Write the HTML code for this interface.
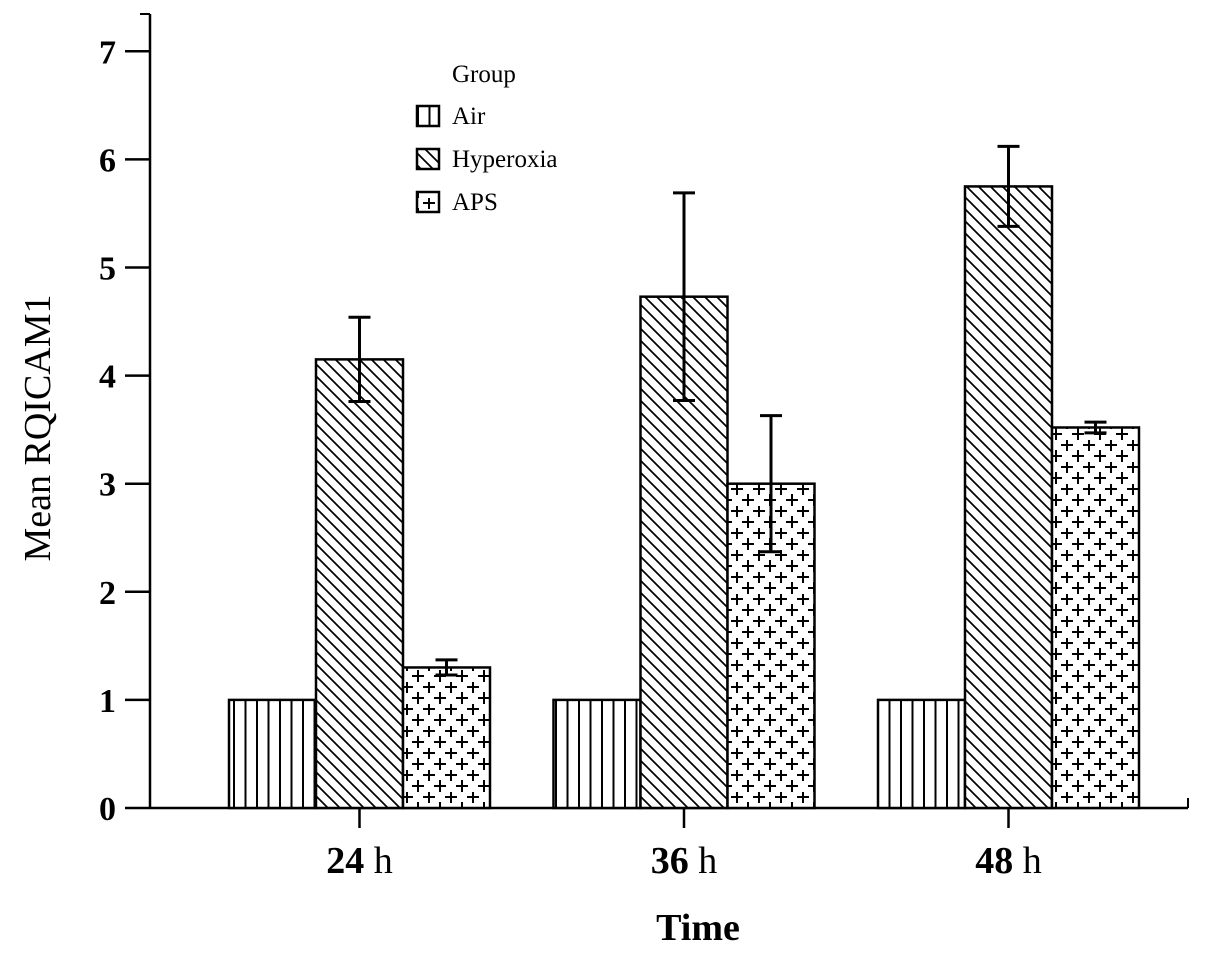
<!DOCTYPE html>
<html><head><meta charset="utf-8"><style>
html,body{margin:0;padding:0;background:#fff;}
svg{display:block;font-family:"Liberation Serif",serif;}
</style></head><body>
<svg id="chart" width="1205" height="953">
<defs>
<pattern id="pAir" patternUnits="userSpaceOnUse" width="11.5" height="20" x="229">
<rect width="11.5" height="20" fill="#fff"/><line x1="5" y1="0" x2="5" y2="20" stroke="#000" stroke-width="2"/></pattern>
<pattern id="pHyp" patternUnits="userSpaceOnUse" width="12" height="12">
<rect width="12" height="12" fill="#fff"/><path d="M-6,6 L6,18 M0,0 L12,12 M6,-6 L18,6" stroke="#000" stroke-width="1.7"/></pattern>
<pattern id="pAps" patternUnits="userSpaceOnUse" width="22" height="22">
<rect width="22" height="22" fill="#fff"/><path d="M5,5 h12 M11,-1 v12 M-6,16 h12 M16,16 h12 M0,10 v12 M22,10 v12" stroke="#000" stroke-width="2"/></pattern>
</defs>
<g id="axes"></g>
<g id="bars"></g>
<g id="legend">
<text x="452" y="82" font-size="25">Group</text>
<rect x="417" y="106" width="22" height="20" fill="url(#pAir)" stroke="#000" stroke-width="2.5"/>
<text x="452" y="124" font-size="25">Air</text>
<rect x="417" y="149" width="22" height="20" fill="url(#pHyp)" stroke="#000" stroke-width="2.5"/>
<text x="452" y="167" font-size="25">Hyperoxia</text>
<rect x="417" y="192" width="22" height="20" fill="url(#pAps)" stroke="#000" stroke-width="2.5"/>
<text x="452" y="210" font-size="25">APS</text>
</g>
<text x="698" y="940" font-size="38" font-weight="bold" text-anchor="middle">Time</text>
<text transform="translate(50,428) rotate(-90)" font-size="38" text-anchor="middle">Mean RQICAM1</text>
</svg>
<script>
const categories = ["24 h","36 h","48 h"];
const seriesNames = ["Air","Hyperoxia","APS"];
const airValues = [1,1,1];
const hypValues = [4.15,4.73,5.75];
const apsValues = [1.3,3.0,3.52];
const airErr = [0,0,0];
const hypErr = [0.39,0.96,0.37];
const apsErr = [0.07,0.63,0.05];
const yTicks = [0,1,2,3,4,5,6,7];

const NS="http://www.w3.org/2000/svg";
const y0=808, unit=108.1;
function yS(v){return y0-v*unit;}
const groupStart=229, groupStep=324.5, barW=87;
function xS(ci,si){return groupStart+ci*groupStep+si*barW;}
function mk(tag,attrs,parent){const e=document.createElementNS(NS,tag);for(const k in attrs)e.setAttribute(k,attrs[k]);parent.appendChild(e);return e;}
const axes=document.getElementById('axes'), bars=document.getElementById('bars');
let e;
e=mk('line',{x1:150,y1:14,x2:150,y2:808,stroke:'#000','stroke-width':2.5},axes);


e=mk('line',{x1:150,y1:808,x2:1188,y2:808,stroke:'#000','stroke-width':2.5},axes);


mk('line',{x1:1188,y1:798,x2:1188,y2:808,stroke:'#000','stroke-width':2},axes);
mk('line',{x1:140,y1:14,x2:150,y2:14,stroke:'#000','stroke-width':2},axes);
yTicks.forEach(t=>{
  mk('line',{x1:125,y1:yS(t),x2:150,y2:yS(t),stroke:'#000','stroke-width':2.5},axes);
  const tx=mk('text',{x:116,y:yS(t)+12,'font-size':34,'font-weight':'bold','text-anchor':'end'},axes);
  tx.textContent=t;
  
  
});
categories.forEach((c,i)=>{
  const cx=xS(i,0)+barW*1.5;
  mk('line',{x1:cx,y1:808,x2:cx,y2:828,stroke:'#000','stroke-width':2.5},axes);
  const tx=mk('text',{x:cx,y:873,'font-size':38,'text-anchor':'middle'},axes);
  const parts=c.split(' ');
  const t1=mk('tspan',{'font-weight':'bold'},tx); t1.textContent=parts[0]+' ';
  const t2=mk('tspan',{},tx); t2.textContent=parts[1];
  
  
});
const series=[[airValues,airErr,'url(#pAir)','air'],[hypValues,hypErr,'url(#pHyp)','hyperoxia'],[apsValues,apsErr,'url(#pAps)','aps']];
series.forEach((s,si)=>{
  s[0].forEach((v,ci)=>{
    const x=xS(ci,si);
    const r=mk('rect',{x:x,y:yS(v),width:barW,height:y0-yS(v),fill:s[2],stroke:'#000','stroke-width':2.5},bars);
    
    
    const err=s[1][ci];
    if(err>0){
      const cx=x+barW/2;
      const g=mk('g',{stroke:'#000','stroke-width':3},bars);
      
      
      mk('line',{x1:cx,y1:yS(v-err),x2:cx,y2:yS(v+err)},g);
      mk('line',{x1:cx-11,y1:yS(v+err),x2:cx+11,y2:yS(v+err)},g);
      mk('line',{x1:cx-11,y1:yS(v-err),x2:cx+11,y2:yS(v-err)},g);
    }
  });
});
</script>
</body></html>
